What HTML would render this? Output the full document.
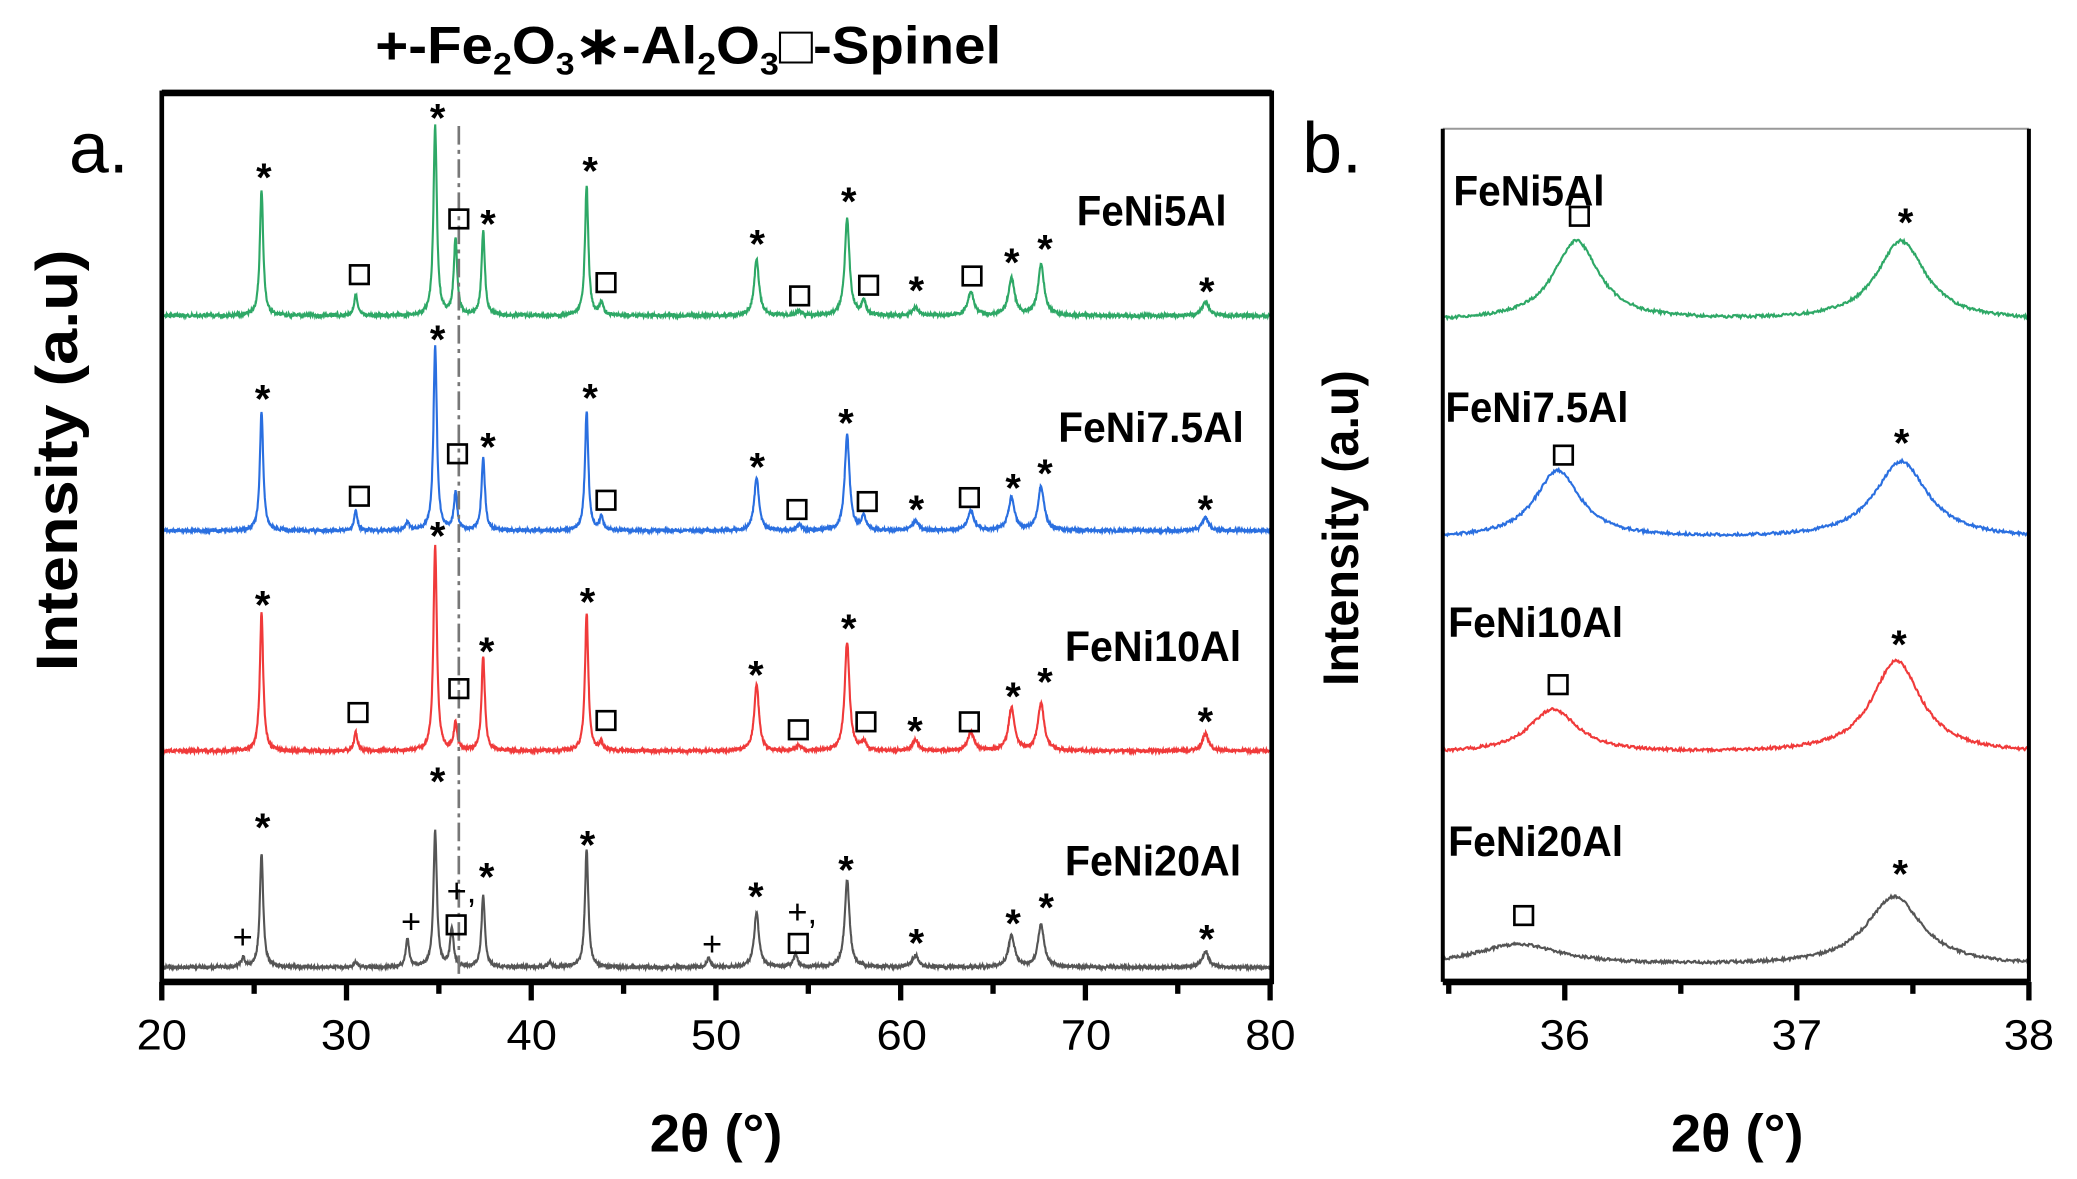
<!DOCTYPE html>
<html><head><meta charset="utf-8"><style>
html,body{margin:0;padding:0;background:#fff;}
svg{display:block;}
text{font-family:"Liberation Sans",sans-serif;fill:#000;}
.lb{font-weight:bold;font-size:32px;}
.tk{font-size:32px;}
.st{font-size:24px;font-weight:bold;}
</style></head><body>
<svg id="s" width="2077" height="1179" viewBox="0 0 1560 885" preserveAspectRatio="none" xmlns="http://www.w3.org/2000/svg">
<g transform="scale(0.996)">
<g id="curves" fill="none" stroke-width="1.6"></g>
<line x1="346" y1="95" x2="346" y2="742" stroke="#777" stroke-width="2" stroke-dasharray="14,4,3,4"/>
<rect x="122" y="70" width="837" height="670" fill="none" stroke="#000" stroke-width="3.5"/>
<line x1="122" y1="70" x2="959" y2="70" stroke="#000" stroke-width="5"/>
<line x1="122" y1="740" x2="959" y2="740" stroke="#000" stroke-width="5"/>
<g id="ticksA" stroke="#000" stroke-width="4"></g>
<line x1="1088" y1="97" x2="1530" y2="97" stroke="#999" stroke-width="1.5"/>
<line x1="1088" y1="97" x2="1088" y2="740" stroke="#000" stroke-width="3"/>
<line x1="1530" y1="97" x2="1530" y2="740" stroke="#000" stroke-width="3"/>
<line x1="1088" y1="740" x2="1530" y2="740" stroke="#000" stroke-width="5"/>
<g id="ticksB" stroke="#000" stroke-width="4"></g>
<g class="tk" text-anchor="middle">
<text x="122" y="791" textLength="38" lengthAdjust="spacingAndGlyphs">20</text><text x="261" y="791" textLength="38" lengthAdjust="spacingAndGlyphs">30</text><text x="401" y="791" textLength="38" lengthAdjust="spacingAndGlyphs">40</text><text x="540" y="791" textLength="38" lengthAdjust="spacingAndGlyphs">50</text><text x="680" y="791" textLength="38" lengthAdjust="spacingAndGlyphs">60</text><text x="819" y="791" textLength="38" lengthAdjust="spacingAndGlyphs">70</text><text x="958" y="791" textLength="38" lengthAdjust="spacingAndGlyphs">80</text>
<text x="1180" y="791" textLength="38" lengthAdjust="spacingAndGlyphs">36</text><text x="1355" y="791" textLength="38" lengthAdjust="spacingAndGlyphs">37</text><text x="1530" y="791" textLength="38" lengthAdjust="spacingAndGlyphs">38</text>
</g>
<text x="490" y="868" font-size="40" font-weight="bold" textLength="100" lengthAdjust="spacingAndGlyphs">2θ (°)</text>
<text x="1260" y="868" font-size="40" font-weight="bold" textLength="100" lengthAdjust="spacingAndGlyphs">2θ (°)</text>
<text transform="translate(58,347) rotate(-90)" text-anchor="middle" font-size="44" font-weight="bold" textLength="318" lengthAdjust="spacingAndGlyphs">Intensity (a.u)</text>
<text transform="translate(1024,398) rotate(-90)" text-anchor="middle" font-size="38" font-weight="bold" textLength="238" lengthAdjust="spacingAndGlyphs">Intensity (a.u)</text>
<text x="52" y="130" font-size="54">a.</text>
<text x="982" y="130" font-size="54">b.</text>
<text x="283" y="48" font-size="40" font-weight="bold" textLength="472" lengthAdjust="spacingAndGlyphs">+-Fe<tspan font-size="24" dy="8">2</tspan><tspan dy="-8">O</tspan><tspan font-size="24" dy="8">3</tspan><tspan dy="-8">∗-Al</tspan><tspan font-size="24" dy="8">2</tspan><tspan dy="-8">O</tspan><tspan font-size="24" dy="8">3</tspan><tspan dy="-8">□-Spinel</tspan></text>
<g class="lb">
<text x="812" y="170" textLength="113" lengthAdjust="spacingAndGlyphs">FeNi5Al</text><text x="798" y="333" textLength="140" lengthAdjust="spacingAndGlyphs">FeNi7.5Al</text><text x="803" y="498" textLength="133" lengthAdjust="spacingAndGlyphs">FeNi10Al</text><text x="803" y="660" textLength="133" lengthAdjust="spacingAndGlyphs">FeNi20Al</text>
<text x="1096" y="155" textLength="114" lengthAdjust="spacingAndGlyphs">FeNi5Al</text><text x="1090" y="318" textLength="138" lengthAdjust="spacingAndGlyphs">FeNi7.5Al</text><text x="1092" y="480" textLength="132" lengthAdjust="spacingAndGlyphs">FeNi10Al</text><text x="1092" y="645" textLength="132" lengthAdjust="spacingAndGlyphs">FeNi20Al</text>
</g>
<g id="marks" class="st" text-anchor="middle"></g>
</g>
</svg>
<script>
var NS="http://www.w3.org/2000/svg";
function xa(t){return 122+(t-20)*13.93;}
function xb(t){return 1180+(t-36)*175;}
var seed=7;function rnd(){seed=(seed*9301+49297)%233280;return seed/233280;}
function curve(xf,t0,t1,base,peaks,col,step){
 var d="";for(var t=t0;t<=t1;t+=step){var y=base;
  for(var i=0;i<peaks.length;i++){var p=peaks[i],s=p[2]||0.14;var dx=(t-p[0])/s;y-= (base-p[1])/(1+dx*dx*1.2);}
  y+= (rnd()-0.5)*2.2; d+=(d?"L":"M")+xf(t).toFixed(1)+","+y.toFixed(1);}
 var e=document.createElementNS(NS,"path");e.setAttribute("d",d);e.setAttribute("stroke",col);document.getElementById("curves").appendChild(e);}
function P(base,arr){return arr.map(function(a){var s=a[0]>60?0.22:(a[0]>50?0.17:0.12);return [a[0],a[1],a[2]||s];});}
var G="#2ea866",B="#2a6fe0",R="#f03a3a",K="#555";
curve(xa,20,80,238,P(238,[[25.4,143],[30.5,222],[34.8,95],[35.9,180],[37.4,175],[43.0,140],[43.8,228],[52.2,195],[54.5,235],[57.1,165],[58.0,228],[60.8,232],[63.8,220],[66.0,210],[67.6,200],[76.5,227]]),G,0.02);
curve(xa,20,80,400,P(400,[[25.4,310],[30.5,385],[33.3,394],[34.8,260],[35.9,372],[37.4,345],[43.0,310],[43.8,390],[52.2,360],[54.5,396],[57.1,328],[58,390],[60.8,393],[63.8,385],[66,375],[67.6,367],[76.5,390]]),B,0.02);
curve(xa,20,80,566,P(566,[[25.4,462],[30.5,552],[34.8,410],[35.9,545],[37.4,495],[43,462],[43.8,560],[52.2,516],[54.5,562],[57.1,484],[58,560],[60.8,558],[63.8,552],[66,534],[67.6,530],[76.5,553]]),R,0.02);
curve(xa,20,80,729,P(729,[[24.4,722],[25.4,643],[30.5,725],[33.3,708],[34.8,626],[35.7,700],[37.4,675],[41,725],[43,640],[49.6,722],[52.2,688],[54.3,720],[57.1,663],[60.8,720],[66,705],[67.6,697],[76.5,717]]),K,0.02);
curve(xb,35.47,38,242,[[36.05,182,0.13],[37.45,182,0.14]],G,0.004);
curve(xb,35.47,38,406,[[35.97,355,0.13],[37.45,348,0.15]],B,0.004);
curve(xb,35.47,38,568,[[35.95,535,0.14],[37.43,498,0.14]],R,0.004);
curve(xb,35.47,38,728,[[35.8,712,0.25],[37.42,676,0.16]],K,0.004);
var ta=document.getElementById("ticksA");
for(var t=20;t<=80;t+=5){var x=xa(t),l=(t%10==0)?14:9;var e=document.createElementNS(NS,"line");e.setAttribute("x1",x);e.setAttribute("x2",x);e.setAttribute("y1",740);e.setAttribute("y2",740+l);ta.appendChild(e);}
var tb=document.getElementById("ticksB");
for(var t=35.5;t<=38.01;t+=0.5){var x=xb(t),l=(Math.abs(t-Math.round(t))<0.01)?14:9;var e=document.createElementNS(NS,"line");e.setAttribute("x1",x);e.setAttribute("x2",x);e.setAttribute("y1",740);e.setAttribute("y2",740+l);tb.appendChild(e);}
var mk=document.getElementById("marks");
function star(x,y){var e=document.createElementNS(NS,"text");e.setAttribute("x",x);e.setAttribute("y",y+14);e.textContent="*";e.setAttribute("font-size","30");mk.appendChild(e);}
function sq(x,y){var e=document.createElementNS(NS,"rect");e.setAttribute("x",x-7);e.setAttribute("y",y-7);e.setAttribute("width",14);e.setAttribute("height",14);e.setAttribute("fill","none");e.setAttribute("stroke","#000");e.setAttribute("stroke-width","2");mk.appendChild(e);}
function plus(x,y,t){var e=document.createElementNS(NS,"text");e.setAttribute("x",x);e.setAttribute("y",y+9);e.textContent=t||"+";e.setAttribute("font-size","26");e.setAttribute("font-weight","normal");mk.appendChild(e);}
var S=[[199,130],[330,85],[368,165],[445,125],[571,180],[640,148],[691,215],[763,194],[788,184],[910,216],
[198,297],[330,252],[368,333],[445,296],[571,348],[638,315],[691,380],[764,364],[788,353],[909,380],
[198,452],[330,400],[367,487],[443,450],[570,505],[640,470],[690,547],[764,521],[788,510],[909,540],
[198,620],[330,585],[367,657],[443,633],[570,672],[638,652],[691,707],[764,692],[789,680],[910,704],
[1437,164],[1434,330],[1432,482],[1433,655]];
S.forEach(function(a){star(a[0],a[1]);});
var Q=[[271,207],[346,165],[457,213],[603,223],[655,215],[733,208],[271,374],[345,342],[457,377],[601,384],[654,378],[731,375],[270,537],[346,519],[457,543],[602,550],[653,544],[731,544],[344,697],[602,711],[1191,163],[1179,343],[1175,516],[1149,690]];
Q.forEach(function(a){sq(a[0],a[1]);});
[[183,706],[310,694],[537,711]].forEach(function(a){plus(a[0],a[1]);});
plus(348,671,"+,");plus(605,687,"+,");
</script>
</body></html>
